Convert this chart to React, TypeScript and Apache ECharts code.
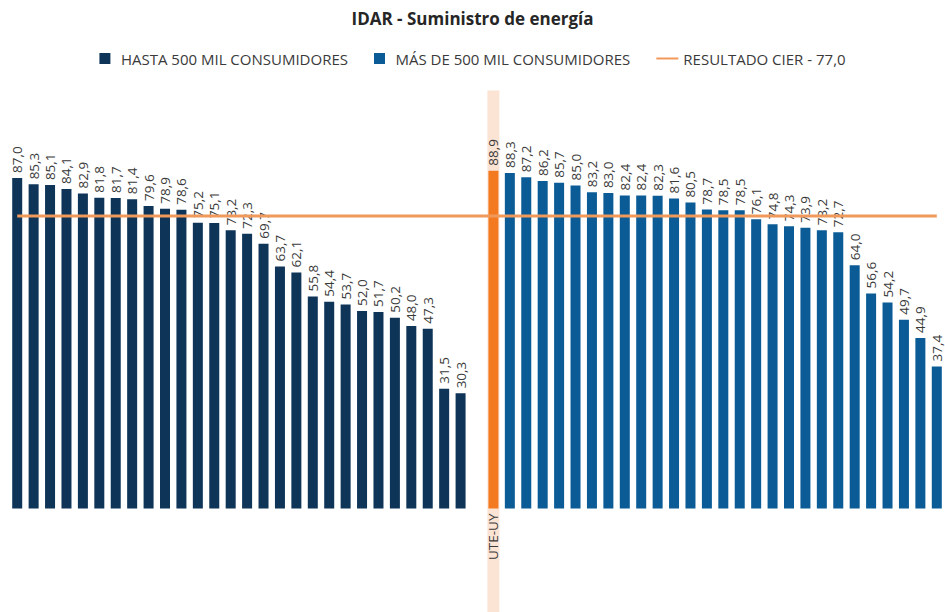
import React, { useEffect, useRef } from "react";
import * as echarts from "echarts";

const TITLE = "IDAR - Suministro de energía";
const SERIES_HASTA = "HASTA 500 MIL CONSUMIDORES";
const SERIES_MAS = "MÁS DE 500 MIL CONSUMIDORES";
const SERIES_CIER = "RESULTADO CIER - 77,0";

// Values
const hastaValues = [
  87.0, 85.3, 85.1, 84.1, 82.9, 81.8, 81.7, 81.4, 79.6, 78.9, 78.6, 75.2, 75.1, 73.2,
  72.3, 69.7, 63.7, 62.1, 55.8, 54.4, 53.7, 52.0, 51.7, 50.2, 48.0, 47.3, 31.5, 30.3,
];
const uteLabel = "UTE-UY";
const uteValue = 88.9;
const masValues = [
  88.3, 87.2, 86.2, 85.7, 85.0, 83.2, 83.0, 82.4, 82.4, 82.3, 81.6, 80.5, 78.7, 78.5,
  78.5, 76.1, 74.8, 74.3, 73.9, 73.2, 72.7, 64.0, 56.6, 54.2, 49.7, 44.9, 37.4,
];
const cierValue = 77.0;

// Category names (only UTE-UY is shown in the picture)
const hastaNames = hastaValues.map((_, i) => `H${i + 1}`);
const gapName = "gap";
const masNames = masValues.map((_, i) => `M${i + 1}`);
const categories = [...hastaNames, gapName, uteLabel, ...masNames];

const FONT = "'Open Sans', Lato, sans-serif";
const TEXT = "#3a3a3a";

const fmt = (v: number) => v.toFixed(1).replace(".", ",");

export default function App() {
  const ref = useRef<HTMLDivElement>(null);
  useEffect(() => {
    if (!ref.current) return;
    const chart = echarts.init(ref.current, null, { renderer: "svg" });

    const hastaData = categories.map((c, i) => (i < hastaValues.length ? hastaValues[i] : "-"));
    const masData = categories.map((c, i) => {
      const start = hastaValues.length + 2;
      if (c === uteLabel) return { value: uteValue, itemStyle: { color: "#F37A21" } };
      if (i >= start) return masValues[i - start];
      return "-";
    });
    const cierData = categories.map(() => cierValue);

    const labelCfg = {
      show: true,
      position: "top",
      rotate: 90,
      align: "left",
      verticalAlign: "middle",
      distance: 5,
      fontSize: 13.5,
      fontFamily: FONT,
      color: TEXT,
      formatter: (p: any) => fmt(p.value),
    };

    chart.setOption({
      animation: false,
      backgroundColor: "#ffffff",
      title: {
        text: TITLE,
        left: "center",
        top: 5,
        textStyle: { fontSize: 17, fontWeight: "bold", color: "#262626", fontFamily: FONT },
      },
      legend: {
        top: 46,
        left: "center",
        itemWidth: 22,
        itemHeight: 11,
        itemGap: 26,
        textStyle: { fontSize: 15, color: TEXT, fontFamily: FONT },
        data: [
          { name: SERIES_HASTA, icon: "path://M0,0h11v11h-11z" },
          { name: SERIES_MAS, icon: "path://M0,0h11v11h-11z" },
          { name: SERIES_CIER, icon: "path://M0,0h22v2h-22z" },
        ],
      },
      grid: { left: 9, right: -8, top: 128.5, bottom: 103.5, containLabel: false },
      xAxis: {
        type: "category",
        data: categories,
        axisLine: { show: false },
        axisTick: { show: false },
        axisLabel: {
          interval: 0,
          rotate: 90,
          margin: 5,
          fontSize: 13.5,
          fontFamily: FONT,
          color: TEXT,
          formatter: (v: string) => (v === uteLabel ? v : ""),
        },
      },
      yAxis: { type: "value", min: 0, max: 100, show: false, splitLine: { show: false } },
      series: [
        {
          name: SERIES_HASTA,
          type: "bar",
          data: hastaData,
          barWidth: 10,
          barGap: "-100%",
          itemStyle: { color: "#0E3457" },
          label: labelCfg,
          z: 3,
        },
        {
          name: SERIES_MAS,
          type: "bar",
          data: masData,
          barWidth: 10,
          barGap: "-100%",
          itemStyle: { color: "#0B5C96" },
          label: labelCfg,
          z: 3,
        },
        {
          name: SERIES_CIER,
          type: "line",
          data: cierData,
          symbol: "none",
          lineStyle: { color: "#F0995A", width: 3 },
          itemStyle: { color: "#F0995A" },
          z: 4,
        },
      ],
    });

    // Light band behind the UTE-UY bar, placed through the axis scale
    const x = chart.convertToPixel({ xAxisIndex: 0 }, uteLabel) as number;
    const yTop = chart.convertToPixel({ yAxisIndex: 0 }, 100) as number;
    chart.setOption({
      graphic: [
        {
          type: "rect",
          z: 0,
          shape: { x: x - 6, y: yTop - 38, width: 12, height: 612 - (yTop - 38) },
          style: { fill: "#FCE4D4" },
          silent: true,
        },
      ],
    });

    return () => chart.dispose();
  }, []);

  return (
    <div
      ref={ref}
      style={{ position: "fixed", left: 0, top: 0, width: 945, height: 612 }}
    />
  );
}
